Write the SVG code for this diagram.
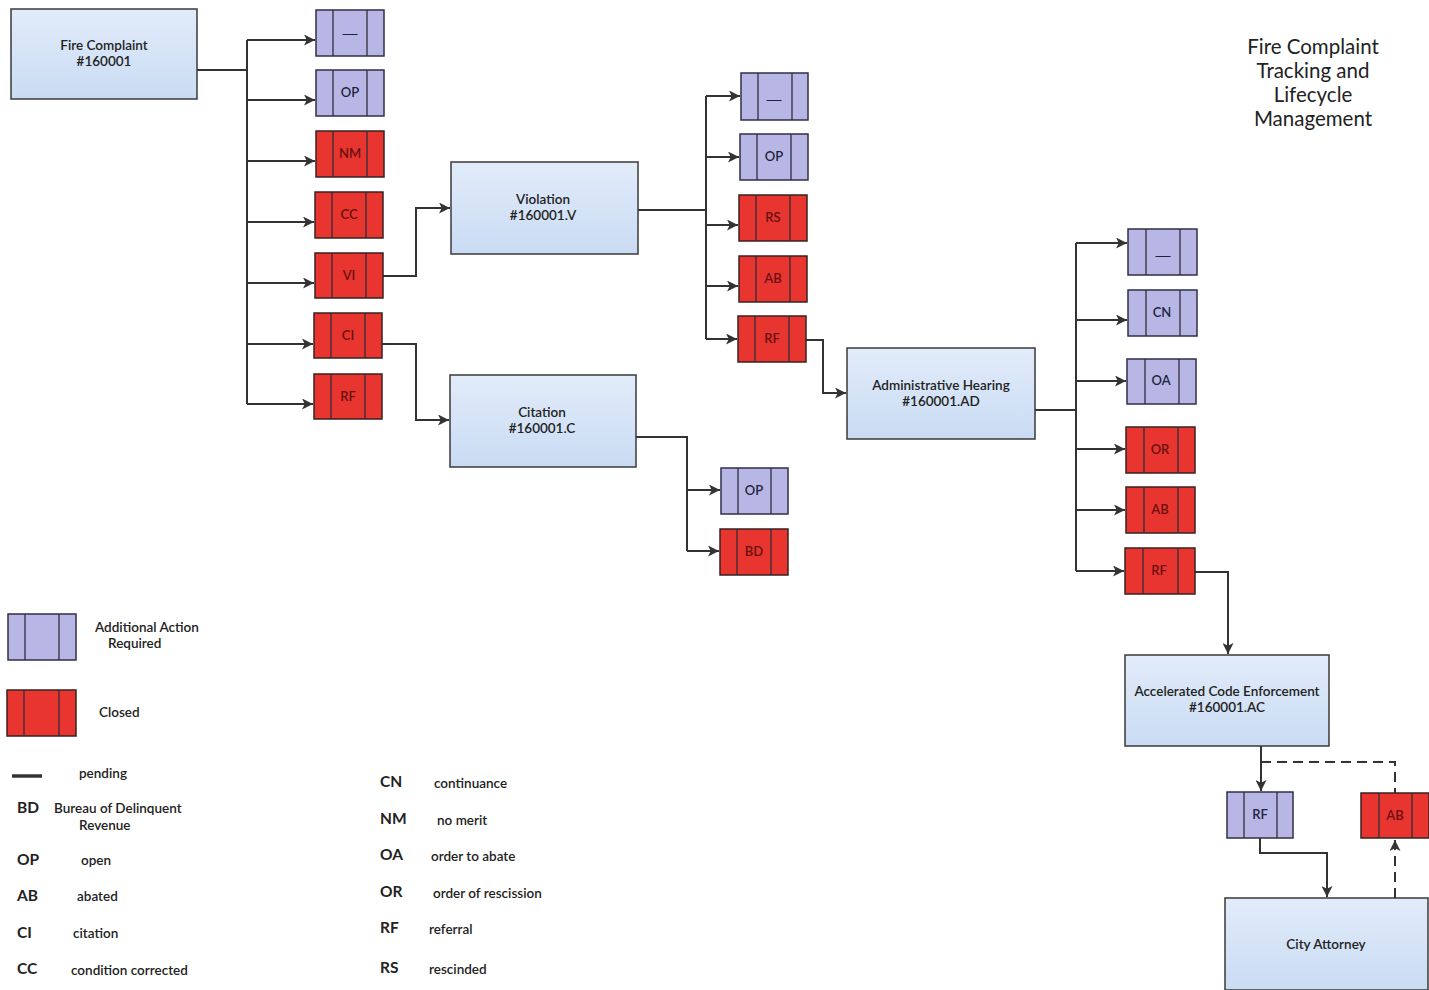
<svg xmlns="http://www.w3.org/2000/svg" width="1429" height="990" viewBox="0 0 1429 990">
<defs>
<linearGradient id="blueGrad" x1="0" y1="0" x2="0" y2="1">
<stop offset="0" stop-color="#e2ecfa"/>
<stop offset="1" stop-color="#c9dbf3"/>
</linearGradient>
<marker id="arr" viewBox="0 0 10 10" refX="10" refY="5" markerWidth="11" markerHeight="11" markerUnits="userSpaceOnUse" orient="auto">
<path d="M0,0 L10,5 L0,10 L2.5,5 z" fill="#333"/>
</marker>
</defs>
<style>
.main{fill:url(#blueGrad);stroke:#3a3a3a;stroke-width:1.5}
.pur{fill:#b7b6e4;stroke:#2f2f4a;stroke-width:1.5}
.red{fill:#e8352f;stroke:#3a2020;stroke-width:1.5}
.div{stroke:#2f2f3a;stroke-width:1.3}
.mt{font-family:Lato,"Open Sans","Liberation Sans",sans-serif;font-size:13.5px;font-weight:600;fill:#222;text-anchor:middle}
.pt{font-family:Lato,"Open Sans","Liberation Sans",sans-serif;font-size:13px;font-weight:600;fill:#1e2440;text-anchor:middle}
.rt{font-family:Lato,"Open Sans","Liberation Sans",sans-serif;font-size:13px;font-weight:600;fill:#6a1010;text-anchor:middle}
.dsh{font-family:"Liberation Sans",sans-serif;font-size:15px;fill:#1e2440;text-anchor:middle}
.con{fill:none;stroke:#333;stroke-width:2}
.dash{fill:none;stroke:#333;stroke-width:2;stroke-dasharray:10,6}
.title{font-family:Lato,"Open Sans","Liberation Sans",sans-serif;font-size:20.5px;fill:#222;text-anchor:middle}
.lt{font-family:Lato,"Open Sans","Liberation Sans",sans-serif;font-size:13.5px;font-weight:600;fill:#222}
.code{font-family:Lato,"Open Sans","Liberation Sans",sans-serif;font-size:15.5px;font-weight:700;fill:#222}
</style>
<rect width="1429" height="990" fill="#ffffff"/>

<g id="title">
<text class="title" x="1313" y="54">Fire Complaint</text>
<text class="title" x="1313" y="78">Tracking and</text>
<text class="title" x="1313" y="102">Lifecycle</text>
<text class="title" x="1313" y="126">Management</text>
</g>

<g id="connectors">
<path class="con" d="M197,70 H247 M247,40 V404"/>
<path class="con" d="M247,40 H315" marker-end="url(#arr)"/>
<path class="con" d="M247,100 H315" marker-end="url(#arr)"/>
<path class="con" d="M247,161 H315" marker-end="url(#arr)"/>
<path class="con" d="M247,222 H314" marker-end="url(#arr)"/>
<path class="con" d="M247,283 H314" marker-end="url(#arr)"/>
<path class="con" d="M247,344 H313" marker-end="url(#arr)"/>
<path class="con" d="M247,404 H313" marker-end="url(#arr)"/>
<path class="con" d="M383,276 H416 V208 H450" marker-end="url(#arr)"/>
<path class="con" d="M382,344 H416 V420 H449" marker-end="url(#arr)"/>
<path class="con" d="M638,210 H706 M706,96 V339"/>
<path class="con" d="M706,96 H740" marker-end="url(#arr)"/>
<path class="con" d="M706,157 H739" marker-end="url(#arr)"/>
<path class="con" d="M706,225 H738" marker-end="url(#arr)"/>
<path class="con" d="M706,286 H738" marker-end="url(#arr)"/>
<path class="con" d="M706,339 H737" marker-end="url(#arr)"/>
<path class="con" d="M636,437 H687 V551"/>
<path class="con" d="M687,490 H720" marker-end="url(#arr)"/>
<path class="con" d="M687,551 H719" marker-end="url(#arr)"/>
<path class="con" d="M806,340 H823 V393 H846" marker-end="url(#arr)"/>
<path class="con" d="M1035,410 H1076 M1076,243 V571"/>
<path class="con" d="M1076,243 H1127" marker-end="url(#arr)"/>
<path class="con" d="M1076,320 H1127" marker-end="url(#arr)"/>
<path class="con" d="M1076,381 H1126" marker-end="url(#arr)"/>
<path class="con" d="M1076,449 H1125" marker-end="url(#arr)"/>
<path class="con" d="M1076,510 H1125" marker-end="url(#arr)"/>
<path class="con" d="M1076,571 H1124" marker-end="url(#arr)"/>
<path class="con" d="M1195,572 H1228 V654" marker-end="url(#arr)"/>
<path class="con" d="M1261,746 V791" marker-end="url(#arr)"/>
<path class="dash" d="M1261,762 H1395 V793"/>
<path class="con" d="M1260,838 V853 H1327 V897" marker-end="url(#arr)"/>
<path class="dash" d="M1395,898 V840" marker-end="url(#arr)"/>
</g>

<g id="fire-complaint">
<rect class="main" x="11" y="9" width="186" height="90"/>
<text class="mt" x="104" y="50">Fire Complaint</text>
<text class="mt" x="104" y="66">#160001</text>
</g>

<g id="s1-pending"><rect class="pur" x="316" y="10" width="68" height="46"/><line class="div" x1="333" y1="10" x2="333" y2="56"/><line class="div" x1="367" y1="10" x2="367" y2="56"/><text class="dsh" x="350" y="38">—</text></g>
<g id="s1-op"><rect class="pur" x="316" y="70" width="68" height="46"/><line class="div" x1="333" y1="70" x2="333" y2="116"/><line class="div" x1="367" y1="70" x2="367" y2="116"/><text class="pt" x="350" y="97">OP</text></g>
<g id="s1-nm"><rect class="red" x="316" y="131" width="68" height="46"/><line class="div" x1="333" y1="131" x2="333" y2="177"/><line class="div" x1="367" y1="131" x2="367" y2="177"/><text class="rt" x="350" y="158">NM</text></g>
<g id="s1-cc"><rect class="red" x="315" y="192" width="68" height="46"/><line class="div" x1="332" y1="192" x2="332" y2="238"/><line class="div" x1="366" y1="192" x2="366" y2="238"/><text class="rt" x="349" y="219">CC</text></g>
<g id="s1-vi"><rect class="red" x="315" y="253" width="68" height="45"/><line class="div" x1="332" y1="253" x2="332" y2="298"/><line class="div" x1="366" y1="253" x2="366" y2="298"/><text class="rt" x="349" y="280">VI</text></g>
<g id="s1-ci"><rect class="red" x="314" y="313" width="68" height="45"/><line class="div" x1="331" y1="313" x2="331" y2="358"/><line class="div" x1="365" y1="313" x2="365" y2="358"/><text class="rt" x="348" y="340">CI</text></g>
<g id="s1-rf"><rect class="red" x="314" y="374" width="68" height="45"/><line class="div" x1="331" y1="374" x2="331" y2="419"/><line class="div" x1="365" y1="374" x2="365" y2="419"/><text class="rt" x="348" y="401">RF</text></g>

<g id="violation">
<rect class="main" x="451" y="162" width="187" height="92"/>
<text class="mt" x="543" y="204">Violation</text>
<text class="mt" x="543" y="220">#160001.V</text>
</g>

<g id="citation">
<rect class="main" x="450" y="375" width="186" height="92"/>
<text class="mt" x="542" y="417">Citation</text>
<text class="mt" x="542" y="433">#160001.C</text>
</g>

<g id="s2-pending"><rect class="pur" x="741" y="73" width="67" height="47"/><line class="div" x1="758" y1="73" x2="758" y2="120"/><line class="div" x1="792" y1="73" x2="792" y2="120"/><text class="dsh" x="774" y="104">—</text></g>
<g id="s2-op"><rect class="pur" x="740" y="134" width="68" height="46"/><line class="div" x1="757" y1="134" x2="757" y2="180"/><line class="div" x1="791" y1="134" x2="791" y2="180"/><text class="pt" x="774" y="161">OP</text></g>
<g id="s2-rs"><rect class="red" x="739" y="195" width="68" height="46"/><line class="div" x1="756" y1="195" x2="756" y2="241"/><line class="div" x1="790" y1="195" x2="790" y2="241"/><text class="rt" x="773" y="222">RS</text></g>
<g id="s2-ab"><rect class="red" x="739" y="256" width="68" height="46"/><line class="div" x1="756" y1="256" x2="756" y2="302"/><line class="div" x1="790" y1="256" x2="790" y2="302"/><text class="rt" x="773" y="283">AB</text></g>
<g id="s2-rf"><rect class="red" x="738" y="316" width="68" height="46"/><line class="div" x1="755" y1="316" x2="755" y2="362"/><line class="div" x1="789" y1="316" x2="789" y2="362"/><text class="rt" x="772" y="343">RF</text></g>

<g id="c-op"><rect class="pur" x="721" y="468" width="67" height="46"/><line class="div" x1="738" y1="468" x2="738" y2="514"/><line class="div" x1="771" y1="468" x2="771" y2="514"/><text class="pt" x="754" y="495">OP</text></g>
<g id="c-bd"><rect class="red" x="720" y="529" width="68" height="46"/><line class="div" x1="737" y1="529" x2="737" y2="575"/><line class="div" x1="771" y1="529" x2="771" y2="575"/><text class="rt" x="754" y="556">BD</text></g>

<g id="admin-hearing">
<rect class="main" x="847" y="348" width="188" height="91"/>
<text class="mt" x="941" y="390">Administrative Hearing</text>
<text class="mt" x="941" y="406">#160001.AD</text>
</g>

<g id="s3-pending"><rect class="pur" x="1128" y="229" width="69" height="46"/><line class="div" x1="1146" y1="229" x2="1146" y2="275"/><line class="div" x1="1180" y1="229" x2="1180" y2="275"/><text class="dsh" x="1163" y="260">—</text></g>
<g id="s3-cn"><rect class="pur" x="1128" y="290" width="69" height="46"/><line class="div" x1="1146" y1="290" x2="1146" y2="336"/><line class="div" x1="1180" y1="290" x2="1180" y2="336"/><text class="pt" x="1162" y="317">CN</text></g>
<g id="s3-oa"><rect class="pur" x="1127" y="359" width="69" height="45"/><line class="div" x1="1145" y1="359" x2="1145" y2="404"/><line class="div" x1="1179" y1="359" x2="1179" y2="404"/><text class="pt" x="1161" y="385">OA</text></g>
<g id="s3-or"><rect class="red" x="1126" y="427" width="69" height="46"/><line class="div" x1="1144" y1="427" x2="1144" y2="473"/><line class="div" x1="1178" y1="427" x2="1178" y2="473"/><text class="rt" x="1160" y="454">OR</text></g>
<g id="s3-ab"><rect class="red" x="1126" y="487" width="69" height="46"/><line class="div" x1="1144" y1="487" x2="1144" y2="533"/><line class="div" x1="1178" y1="487" x2="1178" y2="533"/><text class="rt" x="1160" y="514">AB</text></g>
<g id="s3-rf"><rect class="red" x="1125" y="548" width="70" height="46"/><line class="div" x1="1143" y1="548" x2="1143" y2="594"/><line class="div" x1="1178" y1="548" x2="1178" y2="594"/><text class="rt" x="1159" y="575">RF</text></g>

<g id="ace">
<rect class="main" x="1125" y="655" width="204" height="91"/>
<text class="mt" x="1227" y="696">Accelerated Code Enforcement</text>
<text class="mt" x="1227" y="712">#160001.AC</text>
</g>

<g id="ace-rf"><rect class="pur" x="1227" y="792" width="66" height="46"/><line class="div" x1="1244" y1="792" x2="1244" y2="838"/><line class="div" x1="1277" y1="792" x2="1277" y2="838"/><text class="pt" x="1260" y="819">RF</text></g>
<g id="ace-ab"><rect class="red" x="1361" y="793" width="68" height="45"/><line class="div" x1="1379" y1="793" x2="1379" y2="838"/><line class="div" x1="1412" y1="793" x2="1412" y2="838"/><text class="rt" x="1395" y="820">AB</text></g>

<g id="city-attorney">
<rect class="main" x="1225" y="898" width="203" height="92"/>
<text class="mt" x="1326" y="949">City Attorney</text>
</g>

<g id="legend">
<rect class="pur" x="8" y="614" width="68" height="46"/><line class="div" x1="25" y1="614" x2="25" y2="660"/><line class="div" x1="59" y1="614" x2="59" y2="660"/>
<text class="lt" x="95" y="632">Additional Action</text>
<text class="lt" x="108" y="648">Required</text>
<rect class="red" x="7" y="690" width="69" height="46"/><line class="div" x1="24" y1="690" x2="24" y2="736"/><line class="div" x1="59" y1="690" x2="59" y2="736"/>
<text class="lt" x="99" y="717">Closed</text>
<line x1="12" y1="776" x2="42" y2="776" stroke="#333" stroke-width="3.5"/>
<text class="lt" x="79" y="778">pending</text>
<text class="code" x="17" y="813">BD</text><text class="lt" x="54" y="813">Bureau of Delinquent</text><text class="lt" x="79" y="830">Revenue</text>
<text class="code" x="17" y="865">OP</text><text class="lt" x="81" y="865">open</text>
<text class="code" x="17" y="901">AB</text><text class="lt" x="77" y="901">abated</text>
<text class="code" x="17" y="938">CI</text><text class="lt" x="73" y="938">citation</text>
<text class="code" x="17" y="974">CC</text><text class="lt" x="71" y="975">condition corrected</text>
<text class="code" x="380" y="787">CN</text><text class="lt" x="434" y="788">continuance</text>
<text class="code" x="380" y="824">NM</text><text class="lt" x="437" y="825">no merit</text>
<text class="code" x="380" y="860">OA</text><text class="lt" x="431" y="861">order to abate</text>
<text class="code" x="380" y="897">OR</text><text class="lt" x="433" y="898">order of rescission</text>
<text class="code" x="380" y="933">RF</text><text class="lt" x="429" y="934">referral</text>
<text class="code" x="380" y="973">RS</text><text class="lt" x="429" y="974">rescinded</text>
</g>
</svg>
